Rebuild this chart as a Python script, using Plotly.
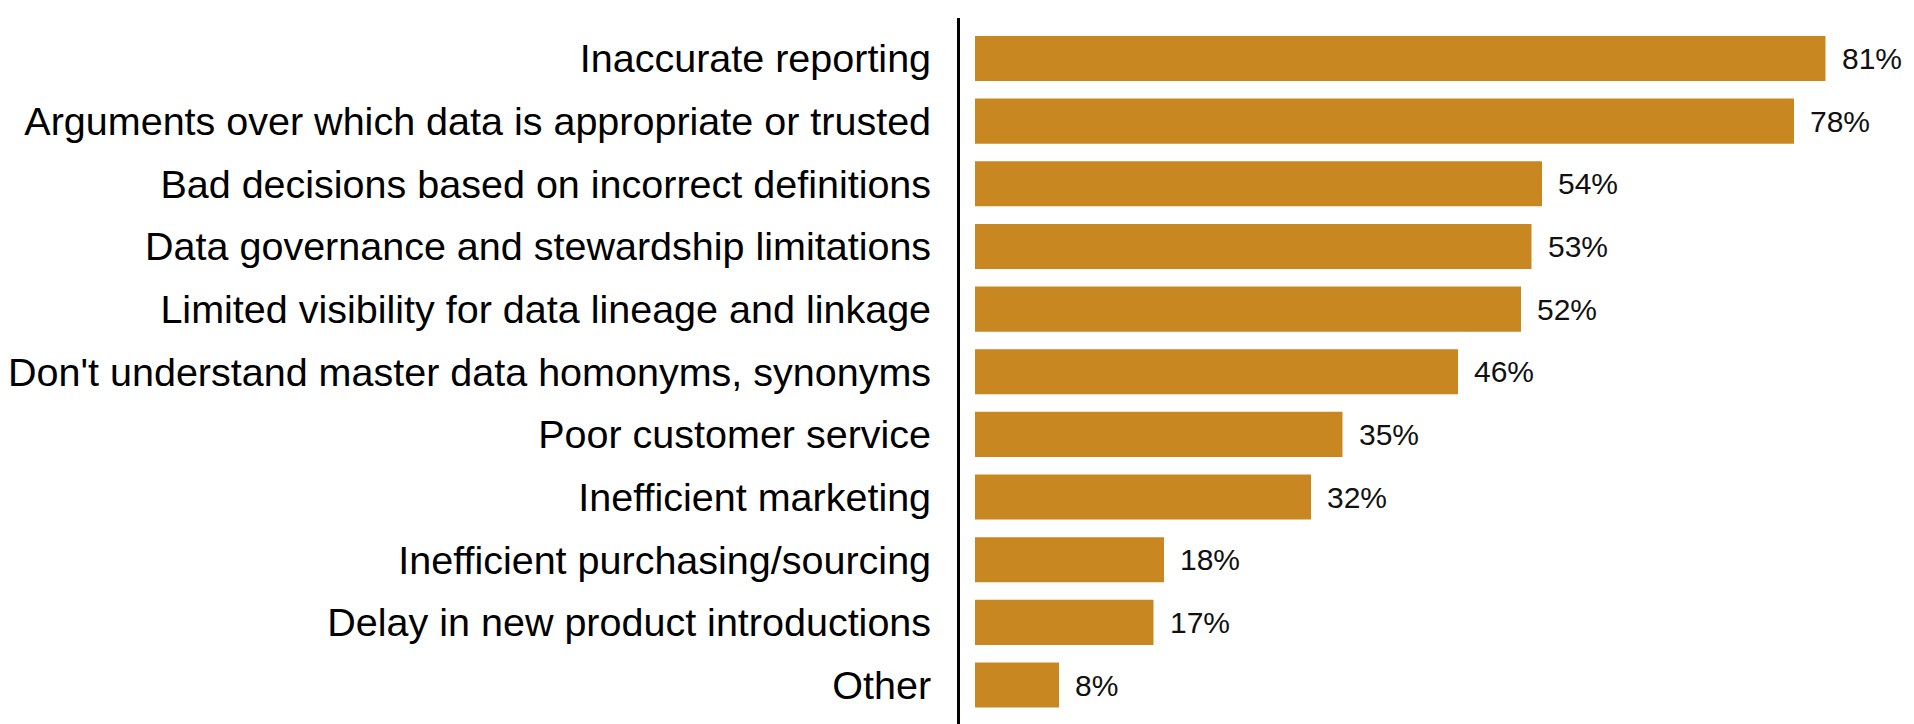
import plotly.graph_objects as go

categories = [
    "Inaccurate reporting",
    "Arguments over which data is appropriate or trusted",
    "Bad decisions based on incorrect definitions",
    "Data governance and stewardship limitations",
    "Limited visibility for data lineage and linkage",
    "Don't understand master data homonyms, synonyms",
    "Poor customer service",
    "Inefficient marketing",
    "Inefficient purchasing/sourcing",
    "Delay in new product introductions",
    "Other",
]
values = [81, 78, 54, 53, 52, 46, 35, 32, 18, 17, 8]
labels = [f"{v}%" for v in values]

BAR_COLOR = "#C98722"
CAT_FONT = "Liberation Sans Narrow, Arial Narrow, Liberation Sans, Arial, sans-serif"

fig = go.Figure()
fig.add_trace(go.Bar(
    x=values,
    y=list(range(len(categories))),
    orientation="h",
    marker=dict(color=BAR_COLOR, line=dict(width=0)),
    width=0.72,
    hoverinfo="skip",
))

for i, (v, t) in enumerate(zip(values, labels)):
    fig.add_annotation(
        x=v, y=i, text=t, showarrow=False, xanchor="left", yanchor="middle",
        xshift=14, font=dict(family=CAT_FONT, size=30, color="#111111"),
    )

W, H = 1914, 724
left = 952
top = 10
px_per_unit = 10.5
zero_x = 967
xmin = -(zero_x - left) / px_per_unit
xmax = xmin + (W - left) / px_per_unit
pitch = 62.65
plot_h = H - top
ymin = -(50.5 - top) / pitch
ymax = ymin + plot_h / pitch

fig.update_layout(
    width=W, height=H,
    margin=dict(l=left, r=0, t=top, b=0, pad=0),
    plot_bgcolor="white", paper_bgcolor="white",
    showlegend=False,
    xaxis=dict(range=[xmin, xmax], visible=False, showgrid=False, zeroline=False),
    yaxis=dict(
        range=[ymax, ymin],
        tickmode="array",
        tickvals=list(range(len(categories))),
        ticktext=categories,
        showgrid=False, zeroline=False,
        showline=True, linecolor="black", linewidth=3,
        ticks="", ticklabelstandoff=18,
        tickfont=dict(family=CAT_FONT, size=39.5, color="black"),
    ),
)

fig.write_html("out.html")
